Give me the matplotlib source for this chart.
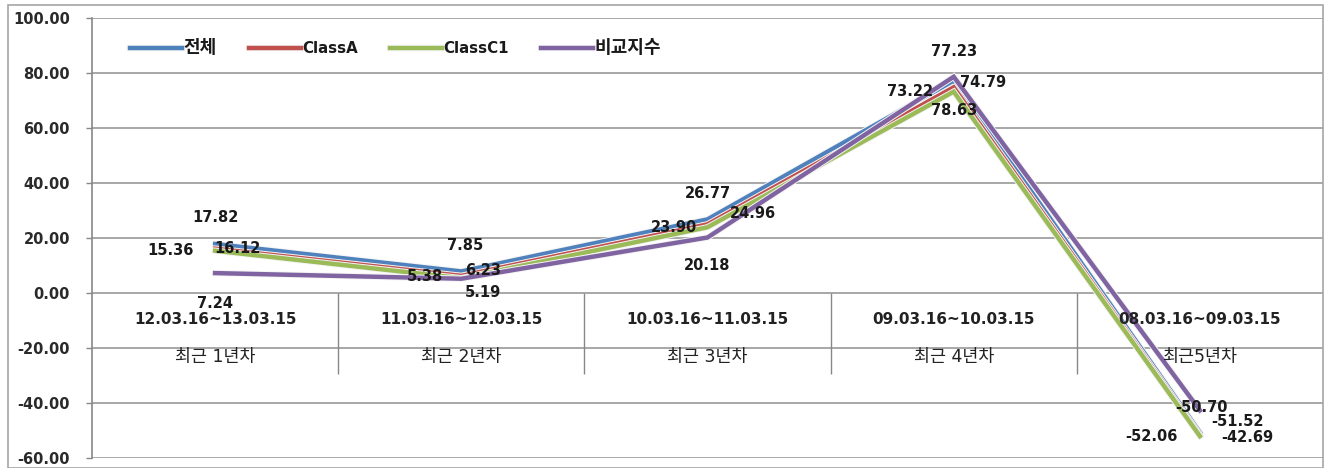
import matplotlib
matplotlib.use("Agg")
import matplotlib.pyplot as plt
import matplotlib.patheffects as pe
from matplotlib.patches import Rectangle

plt.rcParams['font.family'] = ['DejaVu Sans', 'Noto Sans CJK KR']

periods = ["12.03.16~13.03.15", "11.03.16~12.03.15", "10.03.16~11.03.15",
           "09.03.16~10.03.15", "08.03.16~09.03.15"]
years = ["최근 1년차", "최근 2년차", "최근 3년차", "최근 4년차", "최근5년차"]

series_names = ["전체", "ClassA", "ClassC1", "비교지수"]
total = [17.82, 7.85, 26.77, 77.23, -50.70]
class_a = [16.12, 6.23, 24.96, 74.79, -51.52]
class_c1 = [15.36, 5.38, 23.90, 73.22, -52.06]
bench = [7.24, 5.19, 20.18, 78.63, -42.69]

colors = ["#4F81BD", "#C0504D", "#9BBB59", "#8064A2"]

# label offsets in pixels (x, y up), per series per point - rough placement like the source
offsets = [
    [(0, 26), (4, 26), (0, 26), (0, 29), (2, 25)],
    [(22, 0), (22, 5), (45, 11), (29, 5), (38, 13)],
    [(-45, 0), (-36, 2), (-34, 0), (-44, 0), (-48, 0)],
    [(0, -30), (22, -14), (0, -28), (0, -34), (47, -27)],
]

fig = plt.figure(figsize=(13.26, 4.68), dpi=100)
fig.patches.append(Rectangle((8 / 1326, 0.0), 1315 / 1326, 463 / 468,
                             transform=fig.transFigure, fill=False,
                             edgecolor="#A6A6A6", linewidth=1.2))
ax = fig.add_axes([92 / 1326, 10 / 468, 1231 / 1326, 440 / 468])

x = list(range(len(periods)))
all_series = [total, class_a, class_c1, bench]
for vals, name, col in zip(all_series, series_names, colors):
    ax.plot(x, vals, color=col, linewidth=3.2, label=name, solid_joinstyle="miter",
            path_effects=[pe.Stroke(linewidth=4.6, foreground="#F4F4F4"), pe.Normal()],
            zorder=3)

for vals, offs in zip(all_series, offsets):
    for i, v in enumerate(vals):
        ax.annotate(f"{v:.2f}", (i, v), xytext=offs[i], textcoords="offset pixels",
                    ha="center", va="center", fontsize=10.5, fontweight="bold",
                    color="#1A1A1A", zorder=5)

ax.set_xlim(-0.5, len(periods) - 0.5)
ax.set_ylim(-60, 100)
ax.set_yticks(range(-60, 101, 20))
ax.set_yticklabels([f"{t:.2f}" for t in range(-60, 101, 20)], fontweight="bold")
ax.tick_params(axis="y", length=4.3, width=1, color="#888888", pad=11.5,
               labelsize=10.5, labelcolor="#2A2A2A")
ax.set_xticks([])
ax.yaxis.grid(True, color="#A0A0A0", linewidth=1.3)
ax.set_axisbelow(True)
for s in ["top", "right", "bottom"]:
    ax.spines[s].set_visible(False)
ax.spines["left"].set_color("#888888")
ax.spines["left"].set_linewidth(1.2)

# category labels inside the plot, below the zero line
for i in x:
    ax.text(i, -9.8, periods[i], ha="center", va="center", fontsize=11,
            fontweight="bold", color="#222222")
    ax.text(i, -23.3, years[i], ha="center", va="center", fontsize=12.5, color="#222222")
ax.vlines([i + 0.5 for i in x[:-1]], -29.5, 0, color="#888888", linewidth=1)

leg = ax.legend(loc="center left", bbox_to_anchor=(38 / 1231, 1 - 30 / 440), ncol=4,
                frameon=False, fontsize=11, handlelength=3.4, columnspacing=2.1,
                handletextpad=0.1, borderpad=0, borderaxespad=0)
for t in leg.get_texts():
    if t.get_text().startswith("Class"):
        t.set_fontsize(10.8)
    else:
        t.set_fontsize(13)
    t.set_fontweight("bold")
    t.set_color("#1A1A1A")

fig.savefig("out.png", dpi=100)
